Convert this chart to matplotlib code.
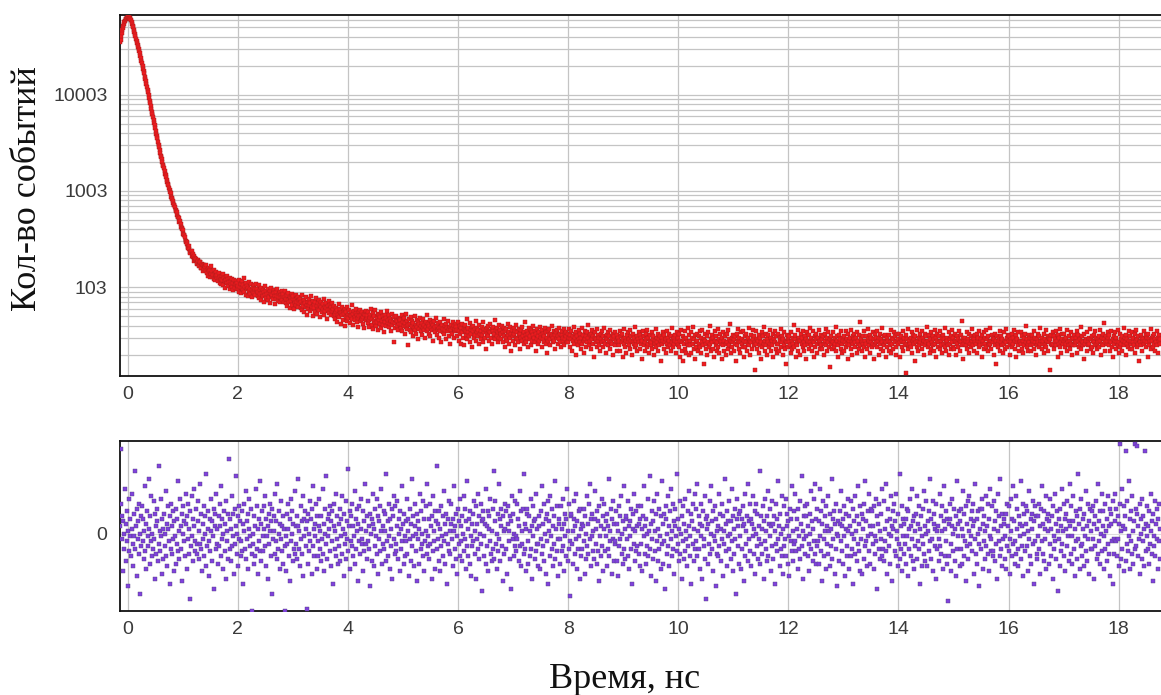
import numpy as np
import matplotlib
matplotlib.use("Agg")
import matplotlib.pyplot as plt
from matplotlib.ticker import FixedLocator, FixedFormatter, LogLocator, NullFormatter

# ---------------- data ----------------
T_START = -0.14   # ns, first bin
T_STEP = 0.01     # ns, bin width

# photon counts per bin (top panel)
counts = [
    # rise, peak and fast decay
    34810, 37250, 40120, 43390, 46610, 48800, 51390, 54150, 56800, 58390,
    60410, 61420, 62250, 62600, 63180, 63850, 64100, 63010, 62190, 60890,
    59350, 56520, 54170, 52040, 49720, 46830, 44410, 42420, 40230, 38010,
    36150, 34640, 32960, 31050, 29510, 28290, 26900, 25150, 23700, 22480,
    21150, 19700, 18510, 17610, 16590, 15400, 14460, 13740, 12910, 11950,
    11190, 10640, 9986, 9241, 8652, 8203, 7701, 7102, 6630, 6297,
    5912, 5451, 5098, 4853, 4551, 4190, 3921, 3731, 3502, 3219,
    3001, 2864, 2690, 2481, 2331, 2241, 2127, 1975, 1869, 1801,
    1712, 1592, 1507, 1457, 1389, 1291, 1226, 1194, 1140, 1062, 1013,
    985, 948, 873, 839, 829, 790, 741, 716, 709, 684,
    627, 622, 610, 560, 533, 541, 521, 478, 482, 455,
    419, 410, 405, 390, 356, 346, 349, 330, 299, 294,
    297, 284, 262, 255, 266, 251, 231, 228, 236, 240,
    209, 206, 221, 213, 187, 192, 203, 198, 176, 180,
    193, 187, 170, 166, 181, 181, 158, 160, 176, 172, 149, 156, 170, 168,
    # knee
    163, 149, 171, 140, 155, 132, 160, 147, 127, 152, 138, 165, 129, 146, 134, 121, 150, 137, 118, 143, 131, 125,
    134, 117, 125, 140, 112, 129, 121, 108, 131, 119, 137, 105, 124, 115, 99, 127, 118, 110, 132, 103,
    121, 114, 96, 126, 109, 117, 101, 122, 93, 112, 118, 106, 99, 115, 108, 97,
    112, 95, 104, 119, 90, 101, 108, 87, 115, 98, 93, 106, 124, 89, 100, 84, 110, 96, 103, 81,
    99, 113, 92, 97, 86, 107, 94, 79, 101, 90, 105, 88, 96, 83, 109, 91,
    97, 82, 90, 105, 78, 93, 86, 74, 99, 88, 81, 94, 71, 89, 102, 84, 77, 92, 85, 96,
    73, 88, 80, 91, 69, 86, 98, 79, 83, 75, 93, 87, 67, 82, 90, 76, 95, 81, 72, 86,
    79, 89, 70, 84, 77, 92, 74, 81,
    85, 71, 79, 92, 68, 76, 83, 64, 74, 88, 70, 80, 61, 77, 72, 86, 66, 75, 81, 59,
    73, 69, 84, 65, 78, 71, 62, 80, 68, 74,
    # slow component
    76, 61, 70, 83, 58, 67, 64, 74, 55, 69, 79, 62, 66, 52, 71, 60, 75, 65, 57, 68,
    81, 59, 63, 72, 50, 66, 61, 70, 56, 77, 64, 53, 68, 60, 73, 58, 49, 65, 62, 71,
    55, 67, 59, 75, 52, 63, 57, 69, 61, 47, 64, 58, 72, 54, 60, 66, 51, 62, 57, 68,
    59, 50, 64, 53, 47, 61, 56, 44, 58, 52, 67, 49, 55, 60, 42, 54, 51, 63, 46, 57,
    53, 40, 59, 49, 55, 62, 45, 52, 48, 58, 51, 43, 56, 50, 65, 47, 53, 41, 57, 49,
    46, 54, 60, 44, 51, 48, 39, 55, 50, 58, 45, 52, 47, 56, 42, 49, 53, 38, 51, 46, 57, 48,
    51, 43, 56, 46, 39, 52, 48, 60, 41, 47, 54, 37, 45, 50, 43, 58, 40, 48, 44, 53,
    36, 46, 51, 42, 49, 55, 38, 45, 41, 50, 47, 34, 52, 44, 40, 48, 57, 43, 46, 39,
    51, 42, 47, 35, 45, 53, 41, 44, 27, 49, 43, 38, 46, 50, 40, 45, 36, 48, 42, 47,
    46, 38, 42, 51, 35, 44, 40, 48, 33, 43, 39, 53, 37, 45, 41, 25, 47, 36, 42, 49,
    34, 40, 45, 31, 43, 38, 50, 36, 41, 33, 46, 39, 44, 29, 42, 37, 48, 35, 40, 43,
    32, 38, 47, 36, 41, 30, 44, 39, 35, 52, 37, 42, 33, 40, 46, 31, 38, 43, 36, 28,
    41, 37, 45, 34, 39, 48, 32, 40, 36, 43, 30, 38, 35, 44, 27, 39, 41, 34, 37, 47,
    33, 40, 36, 29, 42, 38, 35, 45, 31, 37, 39, 26, 41, 36, 33, 44, 38, 30, 40, 35,
    37, 42,
    39, 31, 36, 44, 28, 35, 40, 33, 26, 38, 34, 42, 30, 37, 25, 36, 41, 32, 35, 47,
    29, 34, 38, 31, 43, 27, 36, 33, 39, 24, 35, 40, 30, 37, 32, 45, 28, 34, 38, 31,
    36, 26, 41, 33, 35, 29, 39, 32, 44, 27, 34, 37, 30, 36, 23, 38, 33, 40, 31, 35,
    28, 42, 34, 30, 37, 26, 35, 39, 32, 33, 46, 29, 36, 31, 38, 27, 34, 41, 30, 35,
    36, 29, 33, 40, 27, 34, 31, 38, 24, 35, 30, 37, 28, 42, 32, 26, 34, 39, 30, 33,
    22, 36, 31, 28, 38, 33, 25, 35, 30, 41, 29, 34, 27, 32, 37, 23, 33, 30, 36, 28,
    39, 31, 26, 34, 29, 44, 32, 27, 35, 30, 24, 33, 38, 29, 31, 36, 25, 34, 28, 32,
    40, 30, 27, 35, 22, 33, 29, 37, 31, 26, 34, 28, 39, 32, 30, 24, 36, 29, 33, 27,
    31, 38, 26, 34, 30, 21, 35, 28, 32, 37, 29, 25, 33, 31, 40, 27, 30, 35, 28, 32,
    23, 34, 30, 36, 26, 31, 29, 38, 33, 27, 24, 32, 35, 28, 30, 37, 25, 33, 29, 31,
    34, 27,
    33, 27, 30, 37, 24, 32, 29, 35, 22, 31, 28, 39, 26, 33, 30, 20, 34, 28, 31, 25,
    36, 29, 27, 33, 23, 30, 38, 26, 32, 28, 21, 35, 29, 31, 24, 34, 27, 30, 41, 25,
    32, 28, 23, 33, 29, 36, 26, 31, 19, 30, 34, 27, 29, 24, 37, 28, 32, 25, 30, 22,
    33, 29, 27, 35, 24, 31, 28, 38, 26, 30, 21, 32, 29, 34, 25, 28, 31, 23, 36, 27,
    30, 26, 33, 20, 29, 31, 25, 34, 28, 22, 32, 27,
    30, 25, 28, 35, 22, 31, 27, 33, 19, 29, 26, 37, 24, 30, 28, 21, 32, 27, 34, 25,
    29, 23, 36, 28, 31, 20, 27, 33, 26, 30, 24, 39, 28, 25, 31, 22, 29, 34, 27, 23,
    32, 26, 30, 18, 28, 35, 25, 31, 27, 22, 33, 29, 24, 36, 26, 30, 21, 28, 32, 25,
    27, 34, 23, 29, 31, 20, 28, 26, 37, 24, 30, 27, 33, 22, 29, 25, 31, 28, 17, 30,
    26, 34, 28, 23, 32, 27, 29, 21, 35, 26, 30, 24, 28, 33, 25, 31, 22, 27, 38, 29,
    24, 30, 26, 32, 28, 21, 34, 27, 25, 30,
    # flat tail
    24, 33, 19, 28, 36, 22, 27, 31, 17, 26, 29, 35, 23, 30, 21, 27, 38, 25, 32, 20,
    28, 25, 34, 21, 30, 26, 39, 23, 29, 32, 18, 27, 24, 33, 28, 22, 31, 26, 35, 24,
    30, 21, 27, 36, 25, 29, 16, 28, 33, 23, 26, 31, 20, 34, 27, 24, 40, 26, 29, 22,
    32, 27, 23, 30, 19, 28, 35, 25, 31, 22, 27, 37, 24, 29, 21, 33, 26, 28, 18, 30,
    25, 34, 28, 22, 31, 26, 20, 33, 27, 36, 23, 29, 25, 42, 28, 21, 30, 24, 32, 27,
    22, 29, 31, 26, 17, 33, 25, 28, 37, 23, 30, 27, 21, 34, 26, 29, 24, 35, 19, 28,
    31, 24, 27, 33, 22, 30, 26, 38, 25, 28, 20, 32, 27, 23, 36, 29, 25, 31, 14, 27,
    26, 35, 23, 29, 28, 21, 32, 25, 30, 18, 27, 34, 24, 31, 26, 39, 22, 28, 33, 25,
    29, 20, 27, 32, 24, 36, 26, 30, 22, 28, 25, 33, 19, 29, 27, 35, 23, 31, 26, 21,
    33, 26, 22, 30, 28, 37, 24, 27, 31, 20, 29, 25, 34, 23, 28, 16, 32, 27, 30, 24,
    27, 31, 25, 21, 34, 28, 23, 30, 26, 41, 24, 29, 32, 19, 27, 25, 36, 22, 30, 28,
    20, 28, 33, 26, 30, 24, 35, 22, 27, 31, 25, 18, 29, 34, 26, 28, 23, 32, 27, 38,
    25, 30, 22, 28, 35, 27, 19, 31, 24, 29, 33, 26, 21, 30, 27, 36, 23, 28, 25, 32,
    29, 23, 31, 26, 20, 33, 28, 25, 37, 22, 30, 27, 34, 24, 15, 29, 26, 31, 28, 23,
    34, 27, 24, 30, 26, 39, 22, 28, 31, 25, 19, 32, 27, 29, 23, 35, 26, 21, 30, 28,
    22, 31, 27, 35, 24, 29, 26, 18, 33, 28, 25, 30, 23, 36, 27, 20, 31, 26, 29, 33,
    27, 24, 30, 21, 34, 26, 28, 32, 23, 44, 25, 29, 27, 22, 31, 26, 35, 24, 28, 19,
    31, 26, 23, 29, 37, 25, 28, 21, 32, 27, 30, 24, 34, 26, 18, 29, 33, 25, 27, 30,
    24, 35, 28, 20, 30, 26, 33, 23, 29, 27, 38, 22, 31, 25, 28, 32, 19, 27, 30, 24,
    28, 22, 32, 27, 25, 36, 21, 30, 26, 29, 23, 34, 27, 31, 24, 20, 28, 33, 26, 29,
    33, 27, 19, 29, 31, 24, 28, 35, 22, 27, 30, 25, 13, 32, 26, 29, 23, 37, 28, 25,
    26, 30, 24, 34, 21, 28, 32, 26, 29, 17, 31, 27, 24, 36, 28, 22, 30, 25, 33, 27,
    29, 23, 35, 26, 30, 28, 20, 33, 25, 31, 27, 39, 24, 28, 26, 32, 21, 29, 34, 23,
    27, 31, 25, 22, 29, 36, 26, 30, 19, 28, 33, 24, 27, 31, 23, 35, 28, 25, 30, 21,
    32, 26, 29, 24, 38, 27, 22, 30, 28, 25, 34, 20, 29, 26, 31, 23, 27, 36, 24, 30,
    23, 28, 33, 27, 20, 31, 26, 29, 24, 35, 28, 22, 32, 27, 45, 25, 30, 18, 28, 26,
    30, 25, 28, 34, 23, 29, 27, 21, 33, 26, 31, 24, 37, 28, 25, 30, 22, 29, 27, 32,
    26, 33, 21, 28, 30, 24, 35, 27, 25, 29, 19, 32, 26, 28, 34, 23, 30, 26, 36, 24,
    29, 22, 31, 27, 25, 38, 26, 28, 23, 32, 27, 30, 20, 29, 33, 25, 28, 16, 31, 26,
    24, 30, 28, 35, 22, 27, 31, 25, 29, 21, 34, 26, 28, 23, 37, 27, 30, 24, 32, 28,
    31, 25, 20, 29, 27, 33, 24, 30, 26, 36, 23, 28, 32, 19, 27, 29, 25, 34, 22, 28,
    27, 34, 26, 23, 31, 28, 21, 30, 25, 33, 27, 40, 24, 29, 26, 22, 32, 27, 30, 25,
    22, 29, 32, 26, 28, 35, 23, 27, 30, 20, 29, 25, 33, 27, 24, 31, 26, 38, 28, 23,
    30, 26, 28, 21, 33, 25, 29, 36, 24, 28, 31, 22, 27, 30, 14, 29, 26, 32, 25, 34,
    26, 31, 23, 29, 27, 35, 25, 28, 19, 32, 26, 30, 24, 37, 27, 21, 29, 33, 26, 28,
    33, 24, 29, 26, 30, 22, 36, 27, 25, 31, 28, 23, 34, 26, 29, 20, 30, 25, 32, 27,
    25, 30, 27, 35, 21, 28, 32, 24, 29, 26, 39, 23, 28, 31, 25, 27, 18, 33, 26, 29,
    28, 22, 34, 27, 25, 30, 26, 37, 23, 29, 31, 24, 28, 21, 32, 27, 35, 25, 30, 26,
    23, 29, 27, 31, 24, 36, 28, 20, 30, 26, 33, 25, 29, 43, 27, 22, 31, 26, 28, 34,
    30, 25, 32, 22, 28, 27, 35, 24, 29, 19, 31, 26, 28, 34, 23, 30, 27, 25, 36, 21,
    27, 33, 24, 29, 26, 31, 22, 28, 38, 25, 30, 27, 20, 32, 26, 29, 24, 35, 28, 23,
    31, 26, 28, 23, 34, 27, 30, 25, 21, 33, 28, 36, 24, 29, 26, 31, 17, 28, 27, 32,
    25, 30, 22, 29, 27, 35, 26, 28, 32, 24, 30, 27, 19, 33, 25, 29, 28, 37, 23, 30,
    28, 24, 31, 26, 33, 22, 29, 27, 35, 25, 30, 21, 28, 32, 26, 29,
]

# weighted residuals, in tenths of a standard deviation (bottom panel)
residuals_tenths = [
    3, 34, 12, -2, 7, -15, 5, 0, -6, 18, -11, 4, -3, 9, -21, 1, 14, -7, 6, -1,
    -9, 2, 16, -4, -13, 8, -1, 25, -6, 3, -17, 10, -2, 5, -8, 12, 0, -24, 7, -5,
    11, -3, 6, -10, 1, 19, -7, 4, -14, 9, -1, -5, 22, 2, -12, 7, -3, 15, -9, 0,
    -6, 13, -2, 8, -18, 3, -8, 10, 5, -11, 27, -4, 1, -7, 14, -1, -16, 6, 2, -10,
    8, -5, 0, 17, -9, 4, -13, 2, 11, -3, -20, 7, -6, 12, 3, -8, 9, -2, -15, 5,
    -1, 10, -12, 6, -4, 21, -7, 1, -10, 14, 3, -6, 8, -19, 0, 11, -3, 5, -9, 16,
    4, -14, 7, -2, 12, -8, 2, -26, 9, -5, 15, -1, 6, -11, 3, 18, -7, -3, 10, -4,
    -8, 5, 13, -10, 1, -4, 20, -6, 8, -15, 4, -2, 11, -9, 7, 0, -13, 24, -5, 2,
    9, -3, -17, 6, -7, 14, 1, -11, 5, -1, 10, -22, 3, 8, -6, 16, -4, 2, -12, 7,
    -5, 12, 3, -9, 19, -2, 6, -14, 0, 9, -7, 4, -18, 13, -3, 1, 8, -10, 30, -6,
    6, -11, 2, 15, -5, 8, -1, -16, 10, -4, 3, 23, -8, 0, 7, -13, 11, -2, 5, -9,
    -3, 9, -7, 4, -20, 12, 1, -6, 17, -10, 5, -2, 8, -14, 2, 14, -5, -1, 10, -8,
    -31, -4, 0, -12, 7, 3, -9, 18, -6, 11, -16, 2, 6, -3, 21, -7, 4, -11, 9, -1,
    -7, 2, 11, -5, 15, -13, 6, -1, 3, -18, 8, -4, 12, 1, -9, 5, -24, 10, -2, 7,
    1, -8, 16, -3, 5, -10, 20, -6, 9, 0, -14, 4, -2, 13, -7, 3, 7, -12, 2, -5,
    -31, -1, -15, 8, -4, 12, 2, -9, 6, -19, 14, -3, 0, 9, -11, 4, -6, 17, -8, 3,
    -4, 7, -10, 3, 22, -6, 1, -13, 11, -2, 5, -8, 15, -17, 6, -1, 9, -5, 2, -30,
    5, -12, 8, 0, -7, 13, -3, 6, -16, 10, -5, 19, 2, -9, 4, -1, 12, -14, 7, -3,
    -9, 3, 14, -6, 1, -11, 7, -2, 18, -8, 4, -15, 10, 0, -4, 23, -10, 6, -1, 8,
    2, -7, 11, -13, 5, -3, 9, -20, 3, 12, -6, 1, -9, 16, -2, 7, -12, 4, -5, 10,
    -11, 6, -1, 15, -8, 2, -17, 8, 0, -4, 13, -10, 5, -2, 26, -7, 3, -14, 9, -3,
    7, -5, 12, -9, 3, -1, 17, -12, 6, -6, 1, 10, -19, 4, -3, 11, -8, 2, 14, -4,
    -2, 9, -15, 5, -7, 20, -4, 1, -10, 7, -3, 13, -6, 3, -21, 8, 0, -11, 6, 16,
    4, -13, 2, 10, -5, -1, 14, -8, 7, -16, 5, -2, 11, -7, 1, 18, -12, 3, -4, 9,
    -6, 1, 8, -11, 24, -3, 5, -9, 12, -1, -14, 6, 2, -5, 10, -18, 7, -2, 15, -8,
    11, -4, -7, 3, 13, -10, 0, 6, -15, 9, 2, -6, 19, -3, 4, -12, 8, -1, -9, 5,
    -3, 14, -8, 1, 6, -17, 10, -2, 4, -11, 22, -5, 7, -1, -13, 3, 12, -7, 0, -19,
    8, -2, 5, -12, 2, 16, -6, 9, -4, 0, -9, 13, -15, 6, -3, 11, 1, -8, 20, -5,
    -1, 6, -10, 12, -4, 3, -18, 7, -7, 15, 1, -3, 9, -14, 5, -6, 27, -2, 4, -11,
    9, -15, 2, -5, 11, -1, 7, -9, 17, -3, 4, -12, 0, 8, -20, 6, -4, 13, -7, 1,
    -8, 4, 12, -2, -13, 6, 1, 19, -6, 3, -10, 8, -1, -16, 10, -4, 5, -9, 14, -3,
    3, -11, 7, 0, 15, -7, -2, 10, -14, 5, -5, 21, -9, 2, 6, -12, 9, -1, -17, 4,
    -5, 8, -3, 13, -8, 1, 11, -18, 4, -2, 16, -6, 7, -10, 0, 12, -4, -23, 5, 9,
    6, -1, -9, 4, 18, -12, 3, -5, 9, -15, 2, 7, -3, 14, -8, 1, -11, 10, -6, 25,
    -10, 5, 13, -4, 0, -14, 8, -7, 20, -2, 6, -11, 3, 10, -5, -19, 7, 1, -8, 12,
    2, -6, 9, -16, 4, 11, -3, 1, -10, 7, -22, 5, 15, -2, 8, -9, 0, 13, -5, -1,
    -7, 12, -2, 6, -11, 3, 17, -5, 9, -13, 1, -4, 10, -8, 24, -6, 4, -15, 2, 8,
    10, -3, -12, 7, 1, -9, 14, -6, 3, -18, 11, -1, 5, -10, 6, 16, -7, 2, -4, -13,
    -4, 7, 3, -14, 9, -2, -8, 19, -5, 4, -11, 12, 0, -16, 6, -3, 8, -20, 13, 1,
    5, -9, 15, -1, -6, 10, -13, 3, 7, -4, 21, -10, 2, -7, 11, -2, -17, 6, 4, -12,
    -2, 11, -7, 2, 14, -5, 4, -15, 8, -1, -9, 6, 18, -11, 1, -6, 12, -3, -25, 7,
    8, -4, 1, -12, 6, 13, -8, 3, -2, 16, -14, 5, -6, 9, -1, -18, 10, 2, -9, 4,
    -6, 3, 10, -3, -16, 7, 0, -10, 15, -5, 4, -8, 12, -2, 20, -13, 6, -1, 8, -7,
    1, -10, 6, 17, -4, 2, -12, 9, -7, 5, -19, 11, -1, 3, -9, 14, -5, 7, -15, 2,
    12, -7, -1, 5, -13, 8, 3, -6, 22, -9, 1, -3, 10, -16, 6, -2, 13, -11, 4, -4,
    -3, 9, -11, 4, 1, -17, 11, -5, 7, -2, 15, -8, 0, -12, 5, 19, -6, 2, -10, 6,
    7, -2, 13, -9, 3, -14, 5, -1, 10, -6, -20, 8, 2, -4, 16, -11, 1, 9, -7, 3,
    -5, 11, -8, 4, -13, 6,
    -4, 11, 2, -15, 7, -1, 19, -8, 3, -12, 6, 0, -5, 14, -9, 1, 23, -6, 4, -17,
    9, -2, -10, 5, 13, -7, 1, -19, 8, -3, 16, -11, 2, -6, 10, -1, -14, 7, 21, -4,
    -12, 4, 8, -3, -22, 6, 11, -8, 0, 15, -5, 3, -13, 9, -2, 18, -9, 1, -6, 12,
    5, -16, 3, 10, -1, -7, 24, -4, 6, -11, 2, 13, -8, 0, -18, 7, -3, 11, -10, 4,
    -7, 14, -2, 1, -13, 9, -5, 17, 3, -9, -1, 8, -20, 5, 12, -4, 2, -11, 16, -6,
    10, -3, -9, 20, 1, -6, 7, -14, 4, -1, 12, -18, 3, 9, -5, -2, 15, -10, 6, -26,
    2, 7, -12, 4, -4, 13, -8, 0, 19, -6, 5, -15, 9, -1, -3, 11, -21, 6, 1, -8,
    -9, 3, 16, -5, 8, -11, 2, -2, 12, -17, 7, -4, 1, 22, -7, 4, -13, 9, -1, 5,
    13, -6, 0, -10, 5, 18, -3, 7, -15, 2, -8, 10, -2, -24, 6, 14, -5, 3, -12, 8,
    -1, 9, -14, 6, -6, 3, 11, -19, 4, 16, -9, 1, -4, 7, -11, 20, -2, 5, -7, 12,
    6, -13, 4, -1, 15, -8, 2, 9, -16, 0, 12, -5, 8, -10, 3, -2, 25, -12, 7, -4,
    -8, 2, 11, -18, 5, -3, 14, -6, 1, -11, 7, 17, -9, 4, -1, 10, -15, 3, -5, 13,
    4, -10, 7, 1, -20, 12, -4, 6, -7, 21, -2, 3, -13, 8, 0, -6, 15, -9, 2, -16,
    11, -5, -2, 14, -9, 3, 8, -12, 5, -1, -17, 10, -3, 6, 19, -7, 1, -11, 9, -4,
    -3, 16, -7, 2, 6, -14, 10, -1, -6, 13, -10, 4, 23, -5, 1, -18, 7, -2, 11, -8,
    7, -1, 12, -9, 3, -4, -15, 8, 0, 17, -6, 5, -11, 2, 14, -3, -8, 20, -12, 6,
    -5, 10, -3, 5, -12, 18, -1, -7, 9, -19, 4, 13, -2, -9, 7, 1, -14, 11, -4, 3,
    15, -8, 1, -13, 8, 2, -5, 22, -10, 6, -2, 9, -16, 4, -6, 12, 0, -21, 5, -1,
    -11, 4, 9, -3, 17, -7, 3, -12, 6, -1, 11, -17, 2, 8, -5, -9, 14, 1, -14, 7,
    3, -9, 13, 0, -6, 10, -20, 5, -2, 15, -8, 1, 7, -11, 19, -4, 4, -7, 11, -15,
    -2, 8, -16, 6, 2, -10, 12, -5, 21, -3, 5, -13, 9, -1, -7, 16, -12, 3, 0, 10,
    9, -4, 3, -14, 11, -1, -8, 14, -3, 7, -22, 4, 12, -6, 1, -10, 8, -2, 18, -9,
    -6, 13, -11, 2, -3, 20, -7, 5, -16, 10, 0, -5, 6, -12, 15, -1, 3, -19, 9, 2,
    12, -7, 5, -9, 16, -2, 1, -13, 8, -4, 24, -10, 3, -6, 11, -15, 6, -1, -8, 4,
    -4, 6, -12, 10, -1, -17, 9, 2, -6, 14, -9, 3, -2, 18, -11, 5, -14, 7, 1, -5,
    8, -10, 15, -3, 4, -6, 11, -20, 2, 7, -1, -13, 10, -4, 17, -8, 3, -11, 13, 0,
    -13, 5, 1, 9, -7, 22, -3, 6, -10, -2, 13, -15, 4, 8, -5, 2, -18, 12, -6, 1,
    3, -2, -11, 16, -5, 7, -8, 1, 11, -14, 5, 19, -9, 2, -3, 9, -12, 6, -27, 4,
    -9, 12, 6, -4, -15, 3, 14, -7, 0, 10, -11, 2, 7, -17, 21, -6, 4, -1, 9, -13,
    5, -6, 10, -12, 2, -1, 17, -9, 8, -3, -19, 11, -5, 4, 13, -10, 1, 15, -4, 6,
    -1, 9, -7, 3, 12, -16, 5, -2, 20, -8, 6, -12, 0, 9, -4, -21, 10, 2, -6, 14,
    10, -14, 4, -3, 7, 1, -10, 15, -5, 3, -8, 12, -15, 6, -1, 18, -7, -2, 11, -9,
    -7, 2, 13, -11, 5, -4, 9, -18, 1, 16, -3, 7, -9, 22, -6, 3, -13, 8, -2, 4,
    6, -10, -1, 8, -14, 12, -5, 3, -7, 11, -2, -16, 14, 1, -9, 6, 19, -4, 5, -12,
    -3, 15, -8, 2, 10, -6, -13, 7, 4, -1, 21, -10, 3, -5, 12, -17, 8, 0, -7, 11,
    4, -5, 9, -15, 1, 17, -2, -9, 6, -12, 8, 2, -4, 13, -20, 5, 11, -3, 7, -8,
    -10, 7, -1, 12, -6, 3, -16, 10, -3, 19, -8, 4, 9, -11, 2, -2, 15, -14, 6, 1,
    8, -12, 5, -4, 14, -9, 2, 7, -18, 11, -1, -6, 16, -3, 4, -10, 9, 1, -23, 6,
    -2, 10, -13, 3, -7, 18, -4, 1, 12, -9, 6, -15, 2, 8, -5, 13, -1, -11, 5, 20,
    3, -8, 11, -1, -12, 5, 15, -6, 2, -17, 9, -3, 7, -10, 24, -2, 4, -14, 10, -5,
    14, -4, -9, 6, 2, -13, 8, -1, 17, -7, 3, -11, 12, -2, -16, 5, 10, -6, 1, 9,
    -6, 11, -2, 4, -18, 7, -5, 13, -10, 2, 20, -8, 5, -3, 9, -12, 0, 16, -7, 3,
    9, -1, -14, 12, -6, 1, 6, -11, 15, -4, -8, 3, 10, -17, 4, 8, -3, -20, 13, -2,
    -8, 5, 16, -3, 10, -9, -2, 7, -13, 4, 12, 36, 1, -10, 18, -6, 3, 11, -15, 2,
    7, -11, 33, 13, -4, -7, 21, -1, 6, -14, 9, -3, 15, -8, 1, -12, 5, 36, -6, 10,
    -5, 8, 35, -9, 3, -2, 12, -16, 6, 0, -10, 14, -3, 7, -13, 2, 33, -7, 4, -1,
    11, -6, 3, -12, 9, -4, 1, 16, -8, 5, -19, 8, -1, -5, 13, -9, 4, -2, 10, -14,
    6, -3, 12, -10, 2,
]

x_ticks = [0, 2, 4, 6, 8, 10, 12, 14, 16, 18]
x_tick_labels = ["0", "2", "4", "6", "8", "10", "12", "14", "16", "18"]
top_y_ticks = [100, 1000, 10000]
top_y_tick_labels = ["103", "1003", "10003"]
bottom_y_ticks = [0]
bottom_y_tick_labels = ["0"]

y_label = "Кол-во событий"
x_label = "Время, нс"

# ---------------- figure ----------------
W, H = 1161, 695
fig = plt.figure(figsize=(W / 100, H / 100), dpi=100)
fig.patch.set_facecolor("white")

ax1 = fig.add_axes([120 / W, 1 - 376 / H, 1 - 120 / W, (376 - 15) / H])
ax2 = fig.add_axes([120 / W, 1 - 611 / H, 1 - 120 / W, (611 - 441) / H])

counts_arr = np.array(counts, dtype=float)
res_arr = np.array(residuals_tenths, dtype=float) / 10.0
t_top = T_START + T_STEP * np.arange(len(counts_arr))
t_bot = T_START + T_STEP * np.arange(len(res_arr))

RED = "#ee1b1f"
RED_EDGE = "#a61c1c"
PURPLE = "#8042dc"
PURPLE_EDGE = "#544080"
GRID = "#c4c4c4"
TICK_FONT = dict(family="Liberation Sans", size=14, color="#3a3a3a")

# steep part: points are so dense there that they form a thick line
steep = counts_arr > 250
ax1.plot(t_top[steep], counts_arr[steep], color="#b5171c", lw=2.6,
         solid_capstyle="round", zorder=2)
ax1.scatter(t_top, counts_arr, s=6.5, marker="s", c=RED, edgecolors=RED_EDGE,
            linewidths=0.3, zorder=3)

ax2.scatter(t_bot, res_arr, s=6.5, marker="s", c=PURPLE, edgecolors=PURPLE_EDGE,
            linewidths=0.3, zorder=3)

# top axis formatting
ax1.set_yscale("log")
ax1.set_ylim(12, 67000)
ax1.set_xlim(-0.14, 18.77)
ax1.yaxis.set_major_locator(FixedLocator(top_y_ticks))
ax1.yaxis.set_major_formatter(FixedFormatter(top_y_tick_labels))
ax1.yaxis.set_minor_locator(LogLocator(base=10, subs=np.arange(2, 10)))
ax1.yaxis.set_minor_formatter(NullFormatter())
ax1.grid(True, which="both", axis="y", color=GRID, lw=0.9, zorder=0)

# bottom axis formatting
ax2.set_ylim(-3.1, 3.7)
ax2.set_xlim(-0.14, 18.77)
ax2.yaxis.set_major_locator(FixedLocator(bottom_y_ticks))
ax2.yaxis.set_major_formatter(FixedFormatter(bottom_y_tick_labels))
ax2.grid(True, which="major", axis="y", color="#dcdcdc", lw=0.8, zorder=0)

for ax in (ax1, ax2):
    ax.set_axisbelow(True)
    ax.xaxis.set_major_locator(FixedLocator(x_ticks))
    ax.xaxis.set_major_formatter(FixedFormatter(x_tick_labels))
    ax.grid(True, which="major", axis="x", color=GRID, lw=0.9, zorder=0)
    ax.tick_params(which="both", length=0)
    ax.tick_params(axis="x", pad=7)
    ax.tick_params(axis="y", pad=9)
    for lab in ax.get_xticklabels() + ax.get_yticklabels():
        lab.set_fontfamily(TICK_FONT["family"])
        lab.set_fontsize(TICK_FONT["size"])
        lab.set_color(TICK_FONT["color"])
    ax.spines["right"].set_visible(False)
    for side in ("left", "top", "bottom"):
        ax.spines[side].set_color("#111111")
        ax.spines[side].set_linewidth(1.3)

fig.text(28 / W, 1 - 189 / H, y_label, rotation=90, ha="center", va="center",
         family="Liberation Serif", fontsize=26, color="#111111")
fig.text(625 / W, 1 - 688 / H, x_label, ha="center", va="baseline",
         family="Liberation Serif", fontsize=26, color="#111111")

fig.savefig("out.png", dpi=100, facecolor="white")
